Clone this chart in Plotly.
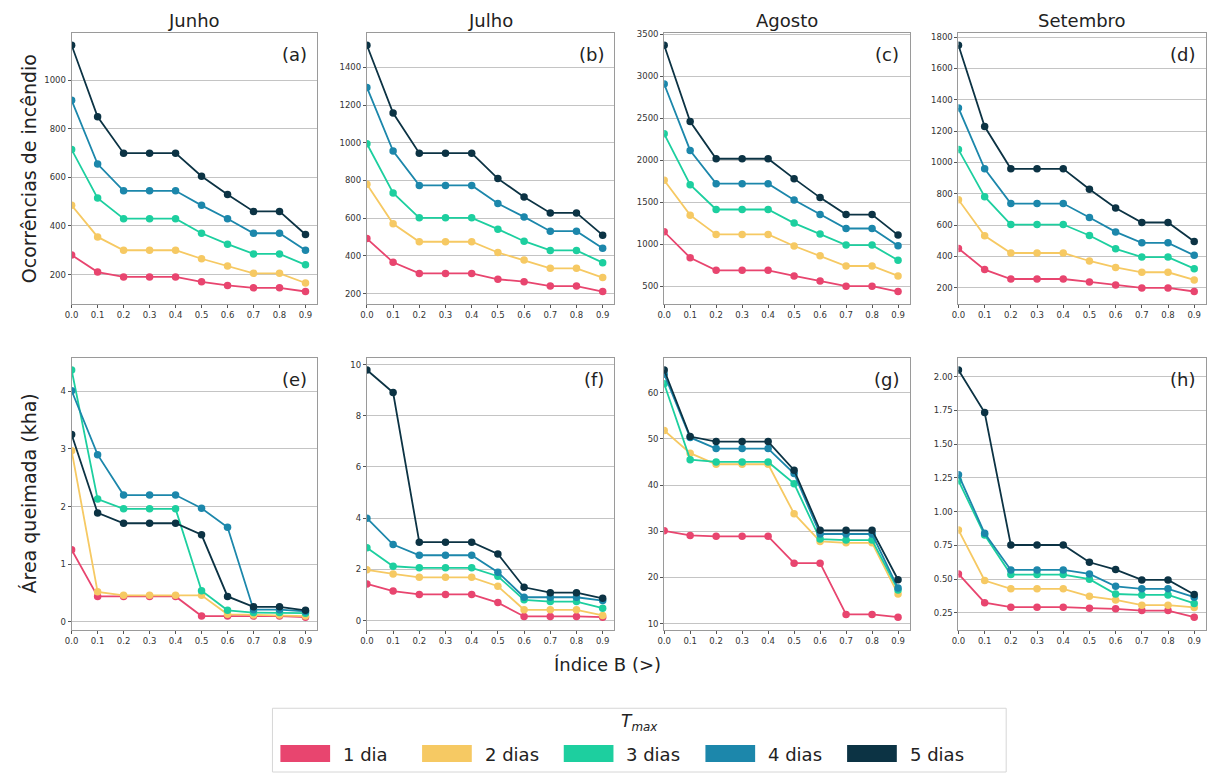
import plotly.graph_objects as go

W, H = 1208, 773

b_index = [0.0, 0.1, 0.2, 0.3, 0.4, 0.5, 0.6, 0.7, 0.8, 0.9]
x_ticks = [0.0, 0.1, 0.2, 0.3, 0.4, 0.5, 0.6, 0.7, 0.8, 0.9]
x_ticktext = ["0.0", "0.1", "0.2", "0.3", "0.4", "0.5", "0.6", "0.7", "0.8", "0.9"]

series_names = ["1 dia", "2 dias", "3 dias", "4 dias", "5 dias"]
series_colors = ["#e8456f", "#f6c963", "#1dcf9f", "#1c87ab", "#0c3344"]

months = ["Junho", "Julho", "Agosto", "Setembro"]
panel_labels = ["(a)", "(b)", "(c)", "(d)", "(e)", "(f)", "(g)", "(h)"]

# Ocorrências de incêndio (rows: 1..5 dias)
occ_junho = [
    [280, 210, 190, 190, 190, 170, 155, 145, 145, 130],
    [485, 355, 300, 300, 300, 265, 235, 205, 205, 165],
    [715, 515, 430, 430, 430, 370, 325, 285, 285, 240],
    [918, 655, 545, 545, 545, 485, 430, 370, 370, 300],
    [1145, 850, 700, 700, 700, 605, 530, 460, 460, 365],
]
occ_julho = [
    [492, 366, 307, 307, 307, 276, 263, 240, 240, 211],
    [780, 570, 475, 475, 475, 418, 378, 334, 334, 285],
    [995, 734, 602, 602, 602, 542, 478, 429, 429, 364],
    [1294, 956, 774, 774, 774, 678, 607, 531, 531, 440],
    [1518, 1158, 945, 945, 945, 810, 713, 628, 628, 510],
]
occ_agosto = [
    [1149, 840, 690, 690, 690, 623, 563, 500, 500, 437],
    [1762, 1347, 1117, 1117, 1117, 979, 864, 741, 741, 623],
    [2316, 1710, 1414, 1414, 1414, 1252, 1121, 990, 990, 809],
    [2909, 2118, 1722, 1722, 1722, 1528, 1354, 1188, 1188, 983],
    [3372, 2462, 2019, 2019, 2019, 1782, 1556, 1354, 1354, 1109],
]
occ_setembro = [
    [450, 315, 255, 255, 255, 236, 217, 198, 198, 175],
    [762, 531, 421, 421, 421, 370, 329, 298, 298, 249],
    [1082, 781, 603, 603, 603, 533, 448, 395, 395, 321],
    [1348, 959, 737, 737, 737, 648, 556, 486, 486, 406],
    [1749, 1229, 959, 959, 959, 828, 709, 616, 616, 495],
]

# Área queimada (kha)
area_junho = [
    [1.25, 0.44, 0.44, 0.44, 0.44, 0.10, 0.10, 0.10, 0.10, 0.08],
    [2.97, 0.52, 0.46, 0.46, 0.46, 0.46, 0.13, 0.12, 0.12, 0.10],
    [4.37, 2.13, 1.96, 1.96, 1.96, 0.54, 0.20, 0.16, 0.16, 0.15],
    [4.01, 2.90, 2.20, 2.20, 2.20, 1.97, 1.64, 0.21, 0.21, 0.18],
    [3.25, 1.89, 1.71, 1.71, 1.71, 1.51, 0.44, 0.26, 0.26, 0.20],
]
area_julho = [
    [1.43, 1.15, 1.02, 1.02, 1.02, 0.70, 0.16, 0.16, 0.16, 0.13],
    [1.98, 1.82, 1.69, 1.69, 1.69, 1.34, 0.42, 0.42, 0.42, 0.20],
    [2.84, 2.12, 2.06, 2.06, 2.06, 1.73, 0.81, 0.74, 0.74, 0.48],
    [4.00, 2.97, 2.55, 2.55, 2.55, 1.89, 0.91, 0.91, 0.91, 0.78],
    [9.79, 8.91, 3.06, 3.06, 3.06, 2.60, 1.30, 1.09, 1.09, 0.87],
]
area_agosto = [
    [30.1, 29.1, 28.9, 28.9, 28.9, 23.1, 23.1, 12.0, 12.0, 11.4],
    [51.8, 46.9, 44.5, 44.5, 44.5, 33.8, 27.8, 27.5, 27.5, 16.4],
    [61.9, 45.5, 45.0, 45.0, 45.0, 40.3, 28.3, 28.1, 28.1, 17.3],
    [64.0, 50.3, 47.9, 47.9, 47.9, 42.5, 29.4, 29.4, 29.4, 17.7],
    [64.9, 50.5, 49.4, 49.4, 49.4, 43.2, 30.2, 30.2, 30.2, 19.5],
]
area_setembro = [
    [0.539, 0.326, 0.292, 0.292, 0.292, 0.285, 0.280, 0.267, 0.267, 0.218],
    [0.864, 0.490, 0.428, 0.428, 0.428, 0.373, 0.346, 0.307, 0.307, 0.290],
    [1.230, 0.827, 0.534, 0.534, 0.534, 0.500, 0.390, 0.383, 0.383, 0.320],
    [1.274, 0.840, 0.568, 0.568, 0.568, 0.539, 0.447, 0.428, 0.428, 0.366],
    [2.050, 1.735, 0.753, 0.753, 0.753, 0.625, 0.571, 0.494, 0.494, 0.386],
]

panels = [occ_junho, occ_julho, occ_agosto, occ_setembro,
          area_junho, area_julho, area_agosto, area_setembro]
y_dticks = [200, 200, 500, 200, 1, 2, 10, 0.25]
y_tick0 = [0, 0, 0, 0, 0, 0, 0, 0]
y_formats = ["d", "d", "d", "d", "d", "d", "d", ".2f"]

# layout geometry in pixels
col_px = [(65, 312), (362, 611), (661, 908), (957, 1206)]
row_px = [(30, 302), (356, 629)]

def px_x(x):
    return x / W

def px_y(y):
    return 1 - y / H

fig = go.Figure()
layout_axes = {}
annotations = []
shapes = []

for idx, data in enumerate(panels):
    r, c = divmod(idx, 4)
    n = idx + 1
    xa = "x" if n == 1 else f"x{n}"
    ya = "y" if n == 1 else f"y{n}"
    for s, vals in enumerate(data):
        fig.add_trace(go.Scatter(
            x=b_index, y=vals, mode="lines+markers", name=series_names[s],
            line=dict(color=series_colors[s], width=1.8),
            marker=dict(color=series_colors[s], size=7.5),
            xaxis=xa, yaxis=ya, showlegend=False,
        ))
    allv = [v for row in data for v in row]
    lo, hi = min(allv), max(allv)
    pad = 0.05 * (hi - lo)
    x0, x1 = col_px[c]
    y0, y1 = row_px[r]
    layout_axes[("xaxis" if n == 1 else f"xaxis{n}")] = dict(
        domain=[px_x(x0), px_x(x1)], anchor=ya, range=[0, 0.945],
        tickvals=x_ticks, ticktext=x_ticktext, showgrid=False,
        showline=True, mirror=True, linecolor="#9a9a9a", linewidth=1,
        ticks="outside", ticklen=3, tickcolor="#555",
        tickfont=dict(family="DejaVu Sans", size=8.5, color="#333"),
        zeroline=False,
    )
    layout_axes[("yaxis" if n == 1 else f"yaxis{n}")] = dict(
        domain=[px_y(y1), px_y(y0)], anchor=xa, range=[lo - pad, hi + pad],
        tick0=y_tick0[idx], dtick=y_dticks[idx], tickformat=y_formats[idx],
        showgrid=True, gridcolor="#c4c4c4", gridwidth=1,
        showline=True, mirror=True, linecolor="#9a9a9a", linewidth=1,
        ticks="outside", ticklen=3, tickcolor="#555",
        tickfont=dict(family="DejaVu Sans", size=8.5, color="#333"),
        zeroline=False,
    )
    annotations.append(dict(
        text=panel_labels[idx], xref=f"{xa} domain", yref=f"{ya} domain",
        x=0.965, y=0.965, xanchor="right", yanchor="top", showarrow=False,
        font=dict(family="DejaVu Sans", size=18, color="#222"),
    ))

# column titles
for c, m in enumerate(months):
    x0, x1 = col_px[c]
    annotations.append(dict(
        text=m, xref="paper", yref="paper", x=px_x((x0 + x1) / 2), y=px_y(18),
        xanchor="center", yanchor="middle", showarrow=False,
        font=dict(family="DejaVu Sans", size=18, color="#222"),
    ))

# row (y-axis) titles
row_titles = ["Ocorrências de incêndio", "Área queimada (kha)"]
for r, t in enumerate(row_titles):
    y0, y1 = row_px[r]
    annotations.append(dict(
        text=t, xref="paper", yref="paper", x=px_x(22), y=px_y((y0 + y1) / 2),
        xanchor="center", yanchor="middle", textangle=-90, showarrow=False,
        font=dict(family="DejaVu Sans", size=19, color="#222"),
    ))

# common x title
annotations.append(dict(
    text="Índice B (>)", xref="paper", yref="paper", x=px_x(604), y=px_y(664),
    xanchor="center", yanchor="middle", showarrow=False,
    font=dict(family="DejaVu Sans", size=18, color="#222"),
))

# legend (drawn box)
shapes.append(dict(type="rect", xref="paper", yref="paper",
                   x0=px_x(267), x1=px_x(1005), y0=px_y(772), y1=px_y(708),
                   line=dict(color="#d6d6d6", width=1), fillcolor="white"))
annotations.append(dict(
    text="<i>T</i><sub><i>max</i></sub>", xref="paper", yref="paper",
    x=px_x(636), y=px_y(722), xanchor="center", yanchor="middle", showarrow=False,
    font=dict(family="DejaVu Sans", size=17, color="#222"),
))
for i, (nm, col) in enumerate(zip(series_names, series_colors)):
    px0 = 275 + i * 142.5
    shapes.append(dict(type="rect", xref="paper", yref="paper",
                       x0=px_x(px0), x1=px_x(px0 + 50), y0=px_y(762), y1=px_y(745),
                       line=dict(width=0), fillcolor=col))
    annotations.append(dict(
        text=nm, xref="paper", yref="paper", x=px_x(px0 + 61), y=px_y(754),
        xanchor="left", yanchor="middle", showarrow=False,
        font=dict(family="DejaVu Sans", size=18, color="#222"),
    ))

fig.update_layout(
    width=W, height=H, margin=dict(l=0, r=0, t=0, b=0),
    paper_bgcolor="white", plot_bgcolor="white",
    showlegend=False, annotations=annotations, shapes=shapes,
    **layout_axes,
)

fig.write_html("out.html")
